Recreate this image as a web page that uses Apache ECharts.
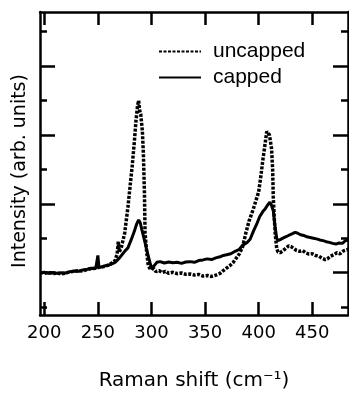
<!DOCTYPE html>
<html>
<head>
<meta charset="utf-8">
<script src="https://cdn.jsdelivr.net/npm/echarts@6/dist/echarts.min.js"></script>
<style>
html, body { margin: 0; padding: 0; background: #fff; }
#chart { width: 349px; height: 396px; }
</style>
</head>
<body>
<div id="chart"></div>
<script>
// Raman shift (cm-1) and intensity (arb. units)
var uncappedShift = [196, 200, 204, 208, 212, 216, 220, 224, 228, 232, 236, 240, 244, 248, 252, 256, 260, 263, 266, 268, 269, 270, 272,
	275, 278, 280, 282, 283, 284, 285.5, 287, 288, 289, 290, 291.5, 292.5, 293.5, 294, 295.5, 297, 299, 300.5,
	302, 304, 307, 310, 313, 316, 320, 324, 328, 332, 336, 340, 344, 348, 352, 356, 360, 364, 367, 370, 373, 376, 379, 382, 385,
	388, 391, 395, 398, 400, 402, 404, 406, 407.5, 409, 410, 411, 412, 413, 413.6, 414.5, 415.5, 416.8, 418, 420, 422, 425, 428,
	430, 432, 435, 438, 441, 444, 447, 450, 453, 456, 459, 462, 464, 467, 470, 473, 476, 479, 482, 484];
var uncappedIntensity = [1.00, 0.98, 1.01, 0.97, 0.99, 0.96, 0.99, 1.02, 1.04, 1.06, 1.05, 1.09, 1.12, 1.13, 1.16, 1.18, 1.22, 1.28, 1.35, 1.55, 1.9, 1.6, 1.75,
	2.15, 2.9, 3.5, 4.1, 4.45, 4.8, 5.4, 5.85, 6.0, 5.7, 5.6, 5.1, 4.4, 3.2, 2.15, 1.6, 1.2, 1.1, 1.05,
	1.12, 1.03, 1.06, 1.0, 1.04, 0.98, 1.01, 0.97, 0.99, 0.95, 0.96, 0.93, 0.95, 0.9, 0.92, 0.89, 0.93, 0.98, 1.06, 1.13, 1.2, 1.29, 1.42, 1.55, 1.75,
	2.15, 2.5, 2.85, 3.15, 3.35, 3.8, 4.3, 4.75, 5.1, 5.15, 5.0, 4.8, 4.6, 4.0, 3.2, 2.6, 2.1, 1.7, 1.6, 1.58, 1.62, 1.7, 1.78,
	1.76, 1.72, 1.65, 1.62, 1.64, 1.57, 1.54, 1.55, 1.5, 1.48, 1.42, 1.38, 1.4, 1.48, 1.52, 1.58, 1.55, 1.63, 1.66, 1.68];

var cappedShift = [196, 200, 204, 208, 212, 216, 220, 224, 228, 232, 236, 240, 244, 248, 250, 251, 254, 258, 262, 266, 270, 272,
	275, 278, 281, 284, 286, 288, 289.5, 291, 294, 296, 298.6, 300.5,
	302, 305, 308, 312, 316, 320, 324, 328, 332, 336, 340, 344, 348, 352, 356, 360, 364, 367, 370, 374, 378, 382, 385,
	389, 392, 395, 398, 401, 404, 406, 408, 410.5, 412, 413.6, 415, 416.8, 418, 420, 423, 426, 429,
	432, 434, 436, 439, 442, 445, 448, 451, 454, 457, 460, 463, 466, 469, 472, 475, 478, 481, 484];
var cappedIntensity = [1.0, 1.01, 0.98, 1.0, 0.98, 1.0, 0.99, 1.03, 1.05, 1.04, 1.08, 1.1, 1.13, 1.12, 1.5, 1.15, 1.17, 1.21, 1.24, 1.3, 1.42, 1.5,
	1.62, 1.72, 1.95, 2.2, 2.4, 2.53, 2.45, 2.25, 1.87, 1.6, 1.29, 1.1,
	1.18, 1.3, 1.32, 1.28, 1.31, 1.29, 1.3, 1.27, 1.31, 1.32, 1.3, 1.35, 1.37, 1.4, 1.38, 1.43, 1.46, 1.5, 1.52, 1.55, 1.62, 1.68, 1.8,
	1.87, 1.97, 2.2, 2.4, 2.63, 2.78, 2.85, 2.95, 3.05, 2.95, 2.8, 2.4, 2.0, 1.93, 1.96, 2.01, 2.05, 2.1,
	2.14, 2.17, 2.15, 2.1, 2.08, 2.04, 2.02, 2.0, 1.98, 1.95, 1.93, 1.9, 1.88, 1.85, 1.83, 1.86, 1.85, 1.93, 1.95];

var xTicks = [200, 250, 300, 350, 400, 450];
var yTicksLong = [1, 3, 5, 7];
var yTicksShort = [0, 2, 4, 6, 8];

function pairs(xs, ys) {
	return xs.map(function(x, i) { return [x, ys[i]]; });
}

var chart = echarts.init(document.getElementById('chart'), null, { renderer: 'canvas' });

var frame = { show: true, onZero: false, lineStyle: { color: '#000', width: 2.5 } };

function yAx(pos, ticks, len, withLine, name) {
	return {
		type: 'value', position: pos, min: -0.23, max: 8.57,
		axisLine: withLine ? frame : { show: false },
		axisTick: { show: true, inside: true, length: len, customValues: ticks, lineStyle: { color: '#000', width: 2.5 } },
		axisLabel: { show: false },
		splitLine: { show: false },
		name: name || '',
		nameLocation: 'middle',
		nameGap: 10,
		nameTextStyle: { fontFamily: 'DejaVu Sans', fontSize: 19, color: '#000', padding: [0, 15, 0, 0] }
	};
}

var option = {
	animation: false,
	backgroundColor: '#fff',
	grid: { left: 40, right: 1, top: 12, bottom: 76 },
	legend: {
		orient: 'vertical',
		left: 158,
		top: 41,
		padding: 0,
		itemWidth: 42,
		itemHeight: 12,
		itemGap: 5,
		data: ['uncapped', 'capped'],
		itemStyle: { opacity: 0, borderWidth: 0 },
		textStyle: { fontFamily: 'Liberation Sans', fontSize: 21, color: '#000', padding: [0, 0, 0, 7] }
	},
	xAxis: [{
		type: 'value', position: 'bottom', min: 196, max: 483.3,
		axisLine: frame,
		axisTick: { show: true, inside: true, length: 13, customValues: xTicks, lineStyle: { color: '#000', width: 2.5 } },
		axisLabel: { customValues: xTicks, margin: 9, fontFamily: 'DejaVu Sans', fontSize: 18, color: '#000' },
		splitLine: { show: false },
		name: 'Raman shift (cm\u207B\u00B9)',
		nameLocation: 'middle',
		nameGap: 56,
		nameTextStyle: { fontFamily: 'DejaVu Sans', fontSize: 20, color: '#000' }
	}, {
		type: 'value', position: 'top', min: 196, max: 483.3,
		axisLine: frame,
		axisTick: { show: true, inside: true, length: 13, customValues: xTicks, lineStyle: { color: '#000', width: 2.5 } },
		axisLabel: { show: false },
		splitLine: { show: false }
	}],
	yAxis: [
		yAx('left', yTicksLong, 15, true, 'Intensity (arb. units)'),
		yAx('left', yTicksShort, 7, false),
		yAx('right', yTicksLong, 15, true),
		yAx('right', yTicksShort, 7, false)
	],
	series: [{
		name: 'capped',
		type: 'line',
		symbol: 'none',
		data: pairs(cappedShift, cappedIntensity),
		lineStyle: { color: '#000', width: 3, type: 'solid' },
		itemStyle: { color: '#000' }
	}, {
		name: 'uncapped',
		type: 'line',
		symbol: 'none',
		data: pairs(uncappedShift, uncappedIntensity),
		lineStyle: { color: '#000', width: 3.5, type: [3, 1.5] },
		itemStyle: { color: '#000' }
	}]
};
chart.setOption(option);
</script>
</body>
</html>
